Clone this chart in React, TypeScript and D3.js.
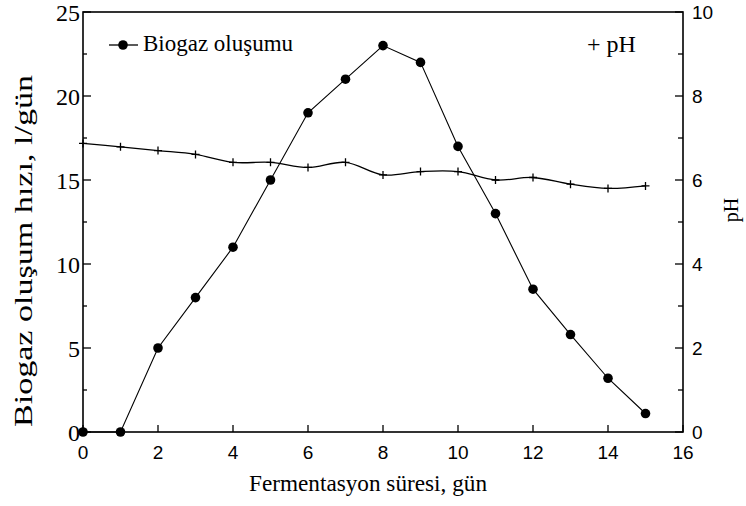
import React from "react";
import * as d3 from "d3";

const days = [0, 1, 2, 3, 4, 5, 6, 7, 8, 9, 10, 11, 12, 13, 14, 15];
const biogas = [0, 0, 5, 8, 11, 15, 19, 21, 23, 22, 17, 13, 8.5, 5.8, 3.2, 1.1];
const ph = [6.87, 6.79, 6.7, 6.61, 6.42, 6.42, 6.3, 6.42, 6.12, 6.2, 6.2, 6.0, 6.06, 5.9, 5.8, 5.86];
const xTicks = [0, 2, 4, 6, 8, 10, 12, 14, 16];
const leftTicks = [0, 5, 10, 15, 20, 25];
const leftMinor = [2.5, 7.5, 12.5, 17.5, 22.5];
const rightTicks = [0, 2, 4, 6, 8, 10];
const rightMinor = [1, 3, 5, 7, 9];

const W = 746;
const H = 506;
const L = 83, R = 683, T = 12, B = 432;

export default function App() {
  const x = d3.scaleLinear().domain([0, 16]).range([L, R]);
  const yL = d3.scaleLinear().domain([0, 25]).range([B, T]);
  const yR = d3.scaleLinear().domain([0, 10]).range([B, T]);

  const bioLine = d3.line<number>().x((_, i) => x(days[i])).y((d) => yL(d));
  const phLine = d3
    .line<number>()
    .x((_, i) => x(days[i]))
    .y((d) => yR(d))
    .curve(d3.curveCatmullRom.alpha(0.5));

  const serif = "'Liberation Serif', 'Times New Roman', serif";
  const sans = "'Liberation Sans', Arial, sans-serif";

  return (
    <svg width={W} height={H} style={{ position: "absolute", left: 0, top: 0, background: "#fff" }}>
      <rect x={0} y={0} width={W} height={H} fill="#fff" />
      {/* frame */}
      <rect x={L} y={T} width={R - L} height={B - T} fill="none" stroke="#000" strokeWidth={1.6} />
      {/* bottom ticks */}
      {xTicks.map((t) => (
        <g key={"x" + t}>
          <line x1={x(t)} x2={x(t)} y1={B} y2={B - 7} stroke="#000" strokeWidth={1.3} />
          <text x={x(t)} y={459} textAnchor="middle" fontFamily={sans} fontSize={19} fill="#000">
            {t}
          </text>
        </g>
      ))}
      {/* left ticks */}
      {leftTicks.map((t) => (
        <g key={"l" + t}>
          <line x1={L} x2={L + 8} y1={yL(t)} y2={yL(t)} stroke="#000" strokeWidth={1.3} />
          <text x={80} y={yL(t) + 8.5} textAnchor="end" fontFamily={serif} fontSize={24} fill="#000">
            {t}
          </text>
        </g>
      ))}
      {leftMinor.map((t) => (
        <line key={"lm" + t} x1={L} x2={L + 4} y1={yL(t)} y2={yL(t)} stroke="#000" strokeWidth={1.3} />
      ))}
      {/* right ticks */}
      {rightTicks.map((t) => (
        <g key={"r" + t}>
          <line x1={R} x2={R - 8} y1={yR(t)} y2={yR(t)} stroke="#000" strokeWidth={1.3} />
          <text x={692} y={yR(t) + 7} textAnchor="start" fontFamily={sans} fontSize={19} fill="#000">
            {t}
          </text>
        </g>
      ))}
      {rightMinor.map((t) => (
        <line key={"rm" + t} x1={R} x2={R - 5} y1={yR(t)} y2={yR(t)} stroke="#000" strokeWidth={1.3} />
      ))}

      {/* pH line */}
      <path d={phLine(ph) || ""} fill="none" stroke="#000" strokeWidth={1.3} />
      {ph.map((v, i) => (
        <path
          key={"p" + i}
          d={`M${x(days[i]) - 4},${yR(v)}h8M${x(days[i])},${yR(v) - 4}v8`}
          stroke="#000"
          strokeWidth={1.3}
          fill="none"
        />
      ))}

      {/* biogas line */}
      <path d={bioLine(biogas) || ""} fill="none" stroke="#000" strokeWidth={1.1} />
      {biogas.map((v, i) => (
        <circle key={"b" + i} cx={x(days[i])} cy={yL(v)} r={4.8} fill="#000" />
      ))}

      {/* legend */}
      <line x1={109} x2={138} y1={45} y2={45} stroke="#000" strokeWidth={1.3} />
      <circle cx={123} cy={45} r={4.8} fill="#000" />
      <text x={143} y={51} fontFamily={serif} fontSize={22.5} fill="#000" textLength={150} lengthAdjust="spacingAndGlyphs">
        Biogaz oluşumu
      </text>
      <text x={587} y={52} fontFamily={serif} fontSize={24} fill="#000">
        + pH
      </text>

      {/* axis titles */}
      <text
        transform={`translate(32,251) rotate(-90)`}
        textAnchor="middle"
        fontFamily={serif}
        fontSize={25}
        fill="#000"
        textLength={352}
        lengthAdjust="spacingAndGlyphs"
      >
        Biogaz oluşum hızı, l/gün
      </text>
      <text
        x={368}
        y={491}
        textAnchor="middle"
        fontFamily={serif}
        fontSize={23}
        fill="#000"
        textLength={238}
        lengthAdjust="spacingAndGlyphs"
      >
        Fermentasyon süresi, gün
      </text>
      <text
        transform={`translate(738,210) rotate(-90)`}
        textAnchor="middle"
        fontFamily={serif}
        fontSize={20}
        fill="#000"
      >
        pH
      </text>
    </svg>
  );
}
